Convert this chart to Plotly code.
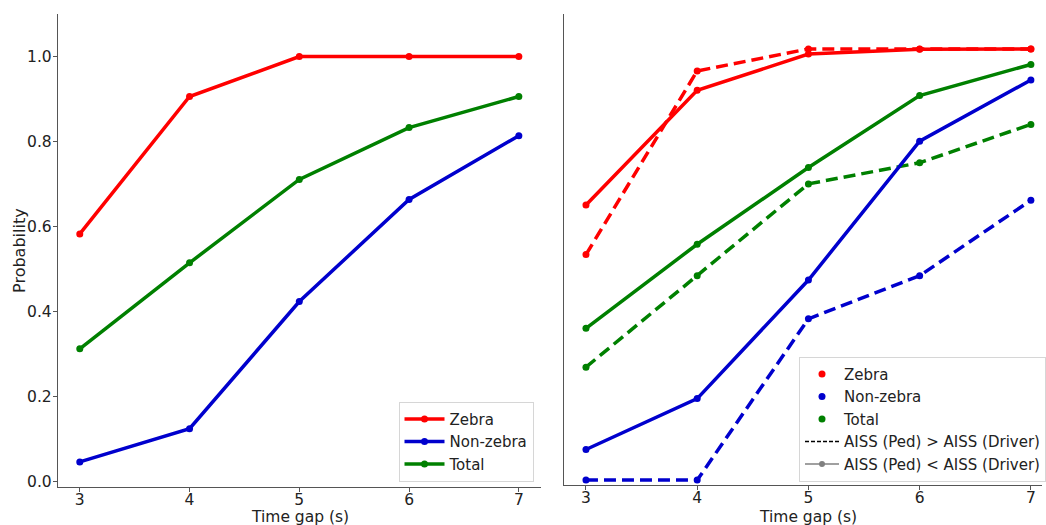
import plotly.graph_objects as go

x = [3, 4, 5, 6, 7]

# Left panel (overall)
left_zebra = [0.583, 0.906, 1.0, 1.0, 1.0]
left_nonzebra = [0.047, 0.125, 0.424, 0.664, 0.814]
left_total = [0.313, 0.515, 0.711, 0.833, 0.906]

# Right panel: AISS (Ped) < AISS (Driver)  (solid)
lt_zebra = [0.638, 0.904, 0.988, 0.999, 1.0]
lt_nonzebra = [0.071, 0.189, 0.464, 0.786, 0.928]
lt_total = [0.352, 0.547, 0.725, 0.892, 0.964]

# Right panel: AISS (Ped) > AISS (Driver)  (dashed)
gt_zebra = [0.523, 0.949, 1.0, 1.0, 1.0]
gt_nonzebra = [0.0, 0.0, 0.374, 0.474, 0.649]
gt_total = [0.262, 0.474, 0.687, 0.736, 0.825]

names = ["Zebra", "Non-zebra", "Total"]
colors = ["#ff0000", "#0000cd", "#008000"]

FONT = "DejaVu Sans"
LW = 3.5
MS = 7

fig = go.Figure()

for name, col, ys in zip(names, colors, [left_zebra, left_nonzebra, left_total]):
    fig.add_trace(go.Scatter(x=x, y=ys, mode="lines+markers", name=name,
                             line=dict(color=col, width=LW), marker=dict(color=col, size=MS),
                             xaxis="x", yaxis="y", legend="legend"))

for col, ys in zip(colors, [gt_zebra, gt_nonzebra, gt_total]):
    fig.add_trace(go.Scatter(x=x, y=ys, mode="lines+markers", showlegend=False,
                             line=dict(color=col, width=LW, dash="12px,6px"),
                             marker=dict(color=col, size=MS),
                             xaxis="x2", yaxis="y2"))
for col, ys in zip(colors, [lt_zebra, lt_nonzebra, lt_total]):
    fig.add_trace(go.Scatter(x=x, y=ys, mode="lines+markers", showlegend=False,
                             line=dict(color=col, width=LW), marker=dict(color=col, size=MS),
                             xaxis="x2", yaxis="y2"))

# legend-only entries for right panel
for name, col in zip(names, colors):
    fig.add_trace(go.Scatter(x=[None], y=[None], mode="markers", name=name,
                             marker=dict(color=col, size=7), xaxis="x2", yaxis="y2",
                             legend="legend2"))
fig.add_trace(go.Scatter(x=[None], y=[None], mode="lines", name="AISS (Ped) > AISS (Driver)",
                         line=dict(color="black", width=1.5, dash="4px,2px"),
                         xaxis="x2", yaxis="y2", legend="legend2"))
fig.add_trace(go.Scatter(x=[None], y=[None], mode="lines+markers", name="AISS (Ped) < AISS (Driver)",
                         line=dict(color="gray", width=1.5), marker=dict(color="gray", size=6),
                         xaxis="x2", yaxis="y2", legend="legend2"))

axis_common = dict(showgrid=False, zeroline=False, showline=True, linecolor="#555", linewidth=1,
                   ticks="outside", ticklen=4, tickcolor="#555", automargin=False,
                   tickfont=dict(family=FONT, size=15.5, color="#222"))

fig.update_layout(
    width=1046, height=525,
    margin=dict(l=0, r=0, t=14, b=38),
    paper_bgcolor="white", plot_bgcolor="white",
    font=dict(family=FONT, size=15, color="#222"),
    xaxis=dict(domain=[0.0555, 0.519], range=[2.8, 7.2], tickvals=x, anchor="y",
               ticklabelstandoff=-6, **axis_common),
    yaxis=dict(domain=[0, 1], range=[-0.012, 1.1], tickvals=[0, 0.2, 0.4, 0.6, 0.8, 1.0],
               ticktext=["0.0", "0.2", "0.4", "0.6", "0.8", "1.0"], anchor="x",
               ticklabelstandoff=-2, **axis_common),
    xaxis2=dict(domain=[0.541, 1.0], range=[2.8, 7.1], tickvals=x, anchor="y2",
                ticklabelstandoff=-6, **axis_common),
    yaxis2=dict(domain=[0.004, 1], range=[-0.0116, 1.081], showticklabels=False, ticks="",
                anchor="x2", showgrid=False, zeroline=False, showline=True, automargin=False,
                linecolor="#555", linewidth=1),
    legend=dict(x=0.512, y=0.011, xanchor="right", yanchor="bottom", itemwidth=40,
                bgcolor="rgba(255,255,255,0.8)", bordercolor="#d6d6d6", borderwidth=1,
                font=dict(family=FONT, size=15, color="#222"), tracegroupgap=0),
    legend2=dict(x=0.767, y=0.011, xanchor="left", yanchor="bottom", itemwidth=34,
                 bgcolor="rgba(255,255,255,0.8)", bordercolor="#d6d6d6", borderwidth=1,
                 font=dict(family=FONT, size=15, color="#222"), tracegroupgap=0),
)

ybot = -40 / 473
title_font = dict(family=FONT, size=15.5, color="#222")
fig.add_annotation(text="Time gap (s)", xref="paper", yref="paper", x=301 / 1046, y=ybot,
                   xanchor="center", yanchor="bottom", showarrow=False, font=title_font,
                   borderpad=0)
fig.add_annotation(text="Time gap (s)", xref="paper", yref="paper", x=811.5 / 1046, y=ybot,
                   xanchor="center", yanchor="bottom", showarrow=False, font=title_font,
                   borderpad=0)
fig.add_annotation(text="Probability", xref="paper", yref="paper", x=19.5 / 1046, y=0.5,
                   xanchor="center", yanchor="middle", textangle=-90, showarrow=False,
                   font=dict(family=FONT, size=16, color="#222"), borderpad=0)

fig.write_html("out.html")
